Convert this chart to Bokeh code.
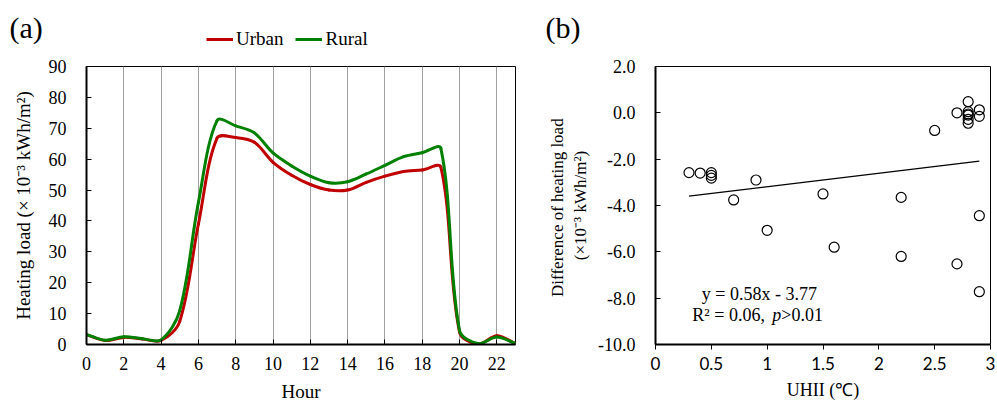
import numpy as np
from bokeh.plotting import figure
from bokeh.layouts import row, column
from bokeh.models import (Range1d, FixedTicker, Label, Legend, LegendItem,
                          NumeralTickFormatter)
from bokeh.embed import file_html
from bokeh.resources import INLINE

# ---------------- data: panel (a) ----------------
hours = list(range(24))
urban = [3.2, 1.3, 2.3, 1.8, 1.3, 7.5, 39.0, 66.8, 67.0, 65.5, 59.0, 54.8,
         51.8, 50.0, 50.0, 52.5, 54.5, 56.0, 56.5, 57.4, 4.0, 0.1, 2.8, 0.3]
rural = [3.3, 1.4, 2.5, 1.9, 1.5, 11.0, 46.0, 72.5, 70.8, 68.5, 62.0, 57.8,
         54.5, 52.4, 52.7, 55.2, 58.0, 60.8, 62.1, 63.5, 4.5, 0.3, 2.4, 0.3]
hour_ticks = list(range(0, 23, 2))
load_ticks = list(range(0, 91, 10))

# ---------------- data: panel (b) ----------------
uhii = [0.3, 0.4, 0.5, 0.5, 0.5, 0.7, 0.9, 1.0, 1.5, 1.6, 2.2, 2.2, 2.5,
        2.7, 2.7, 2.8, 2.8, 2.8, 2.8, 2.8, 2.8, 2.9, 2.9, 2.9, 2.9]
diff = [-2.58, -2.6, -2.58, -2.7, -2.82, -3.76, -2.9, -5.07, -3.5, -5.8,
        -3.65, -6.2, -0.76, 0.0, -6.52, 0.48, 0.05, -0.05, -0.1, -0.28,
        -0.45, 0.13, -0.15, -4.44, -7.72]
fit_slope = 0.58
fit_intercept = -3.77
fit_r2 = 0.06
uhii_ticks = [0, 0.5, 1, 1.5, 2, 2.5, 3]
diff_ticks = [-10, -8, -6, -4, -2, 0, 2]

SERIF = "Liberation Serif"
RED = "#C00000"
GREEN = "#008000"


def smooth_segments(xs, ys, sx, sy, t=1.0 / 3.0):
    """Bezier control points (in data space) for a smoothed line through the points."""
    X = np.asarray(xs, float)
    Y = np.asarray(ys, float)
    n = len(X)
    before, after = [], []
    for i in range(n):
        ip, inx = max(i - 1, 0), min(i + 1, n - 1)
        d01 = np.hypot((X[i] - X[ip]) * sx, (Y[i] - Y[ip]) * sy)
        d12 = np.hypot((X[inx] - X[i]) * sx, (Y[inx] - Y[i]) * sy)
        tot = d01 + d12
        fa = t * d01 / tot if tot > 0 else 0.0
        fb = t * d12 / tot if tot > 0 else 0.0
        dx, dy = X[inx] - X[ip], Y[inx] - Y[ip]
        before.append((X[i] - fa * dx, Y[i] - fa * dy))
        after.append((X[i] + fb * dx, Y[i] + fb * dy))
    return dict(
        x0=X[:-1], y0=Y[:-1], x1=X[1:], y1=Y[1:],
        cx0=[a[0] for a in after[:-1]], cy0=[a[1] for a in after[:-1]],
        cx1=[b[0] for b in before[1:]], cy1=[b[1] for b in before[1:]],
    )


TOTAL_W, TOTAL_H = 997, 404
HEAD_H = 52

# ---------------- header strip: panel letters and legend ----------------
head = figure(width=TOTAL_W, height=HEAD_H, output_backend="svg",
              toolbar_location=None, x_range=Range1d(0, TOTAL_W),
              y_range=Range1d(0, HEAD_H), min_border=0,
              x_axis_location=None, y_axis_location=None)
head.outline_line_color = None
head.xgrid.grid_line_color = None
head.ygrid.grid_line_color = None
lg_u = head.line(hours, urban, line_color=RED, line_width=3, visible=False)
lg_r = head.line(hours, rural, line_color=GREEN, line_width=3, visible=False)
legend = Legend(items=[LegendItem(label="Urban", renderers=[lg_u]),
                       LegendItem(label="Rural", renderers=[lg_r])],
                location=(206, 2), orientation="horizontal",
                glyph_width=27, glyph_height=20, label_standoff=3, spacing=12,
                padding=0, margin=0, border_line_color=None,
                background_fill_alpha=0, click_policy="none",
                label_text_font=SERIF, label_text_font_size="19px",
                label_text_color="black")
head.add_layout(legend)
head.add_layout(Label(x=9, y=HEAD_H - 27, text="(a)", text_font=SERIF,
                      text_font_size="30px", text_baseline="middle",
                      text_color="black"))
head.add_layout(Label(x=545, y=HEAD_H - 27, text="(b)", text_font=SERIF,
                      text_font_size="30px", text_baseline="middle",
                      text_color="black"))

# ---------------- panel (a) ----------------
W1, H1 = 530, TOTAL_H - HEAD_H
BL1, BR1, BT1, BB1 = 86, 15, 66 - HEAD_H, 59
pa = figure(width=W1, height=H1, output_backend="svg", toolbar_location=None,
            x_range=Range1d(0, 23), y_range=Range1d(0, 90),
            min_border_left=BL1, min_border_right=BR1,
            min_border_top=BT1, min_border_bottom=BB1)
fw = W1 - BL1 - BR1
fh = H1 - BT1 - BB1
sx = fw / 23.0
sy = fh / 90.0

seg_u = smooth_segments(hours, urban, sx, sy)
seg_r = smooth_segments(hours, rural, sx, sy)
pa.bezier(line_color=RED, line_width=3, line_cap="round", **seg_u)
pa.bezier(line_color=GREEN, line_width=3, line_cap="round", **seg_r)

pa.xaxis.ticker = FixedTicker(ticks=hour_ticks)
pa.yaxis.ticker = FixedTicker(ticks=load_ticks)
pa.xgrid.ticker = FixedTicker(ticks=hour_ticks)
pa.xgrid.grid_line_color = "#a0a0a0"
pa.xgrid.grid_line_width = 1
pa.ygrid.grid_line_color = None
pa.outline_line_color = "black"
pa.outline_line_width = 1

for ax in (pa.xaxis[0], pa.yaxis[0]):
    ax.axis_line_color = "black"
    ax.axis_line_width = 2
    ax.major_tick_line_color = "black"
    ax.major_tick_line_width = 1
    ax.major_tick_in = 5
    ax.major_tick_out = 0
    ax.minor_tick_line_color = None
    ax.major_label_text_font = SERIF
    ax.major_label_text_font_size = "18px"
    ax.major_label_text_color = "black"
    ax.axis_label_text_font = SERIF
    ax.axis_label_text_font_size = "19px"
    ax.axis_label_text_font_style = "normal"
    ax.axis_label_text_color = "black"

pa.xaxis.axis_label = "Hour"
pa.xaxis.major_label_standoff = 12
pa.xaxis.axis_label_standoff = 8
pa.yaxis.axis_label = "Heating load (× 10⁻³ kWh/m²)"
pa.yaxis.major_label_standoff = 20
pa.yaxis.axis_label_standoff = 12

# ---------------- panel (b) ----------------
W2, H2 = TOTAL_W - W1, TOTAL_H - HEAD_H
pb = figure(width=W2, height=H2, output_backend="svg", toolbar_location=None,
            x_range=Range1d(0, 3), y_range=Range1d(-10, 2),
            min_border_left=125, min_border_right=7,
            min_border_top=63 - HEAD_H, min_border_bottom=58)

xl = np.array([min(uhii), max(uhii)])
pb.line(xl, fit_slope * xl + fit_intercept, line_color="black", line_width=1.3)
pb.scatter(uhii, diff, marker="circle", size=10, fill_color=None,
           line_color="black", line_width=1.2)

pb.xaxis.ticker = FixedTicker(ticks=uhii_ticks)
pb.yaxis.ticker = FixedTicker(ticks=diff_ticks)
pb.xaxis.major_label_overrides = {v: ("%g" % v) for v in uhii_ticks}
pb.yaxis.formatter = NumeralTickFormatter(format="0.0")
pb.xgrid.grid_line_color = None
pb.ygrid.grid_line_color = None
pb.outline_line_color = "black"
pb.outline_line_width = 1

for ax in (pb.xaxis[0], pb.yaxis[0]):
    ax.axis_line_color = "black"
    ax.axis_line_width = 2
    ax.major_tick_line_color = "black"
    ax.major_tick_line_width = 1
    ax.minor_tick_line_color = None
    ax.major_label_text_color = "black"
    ax.axis_label_text_font = SERIF
    ax.axis_label_text_font_size = "18px"
    ax.axis_label_text_font_style = "normal"
    ax.axis_label_text_color = "black"

pb.yaxis.major_tick_in = 5
pb.yaxis.major_tick_out = 0
pb.yaxis.major_label_text_font = SERIF
pb.yaxis.major_label_text_font_size = "18px"
pb.yaxis.major_label_standoff = 20
pb.yaxis.axis_label = "Difference of  heating load\n(×10⁻³ kWh/m²)"
pb.yaxis.axis_label_standoff = 5
pb.yaxis.axis_label_text_font_size = "17px"

pb.xaxis.major_tick_in = 0
pb.xaxis.major_tick_out = 5
pb.xaxis.major_label_text_font = "Lato"
pb.xaxis.major_label_text_font_size = "17px"
pb.xaxis.major_label_standoff = 7
pb.xaxis.axis_label = "UHII (℃)"
pb.xaxis.axis_label_standoff = 7

eq = "y = %.2fx - %.2f" % (fit_slope, abs(fit_intercept))
pb.add_layout(Label(x=0.93, y=-7.82, text=eq, text_align="center",
                    text_baseline="middle", text_font=SERIF,
                    text_font_size="18px", text_color="black"))
r2_txt = "R² = %.2f," % fit_r2
pb.add_layout(Label(x=0.33, y=-8.72, text=r2_txt, text_align="left",
                    text_baseline="middle", text_font=SERIF,
                    text_font_size="18px", text_color="black"))
pb.add_layout(Label(x=0.33, y=-8.72, x_offset=80, text="p", text_align="left",
                    text_baseline="middle", text_font=SERIF,
                    text_font_style="italic",
                    text_font_size="18px", text_color="black"))
pb.add_layout(Label(x=0.33, y=-8.72, x_offset=89, text=">0.01", text_align="left",
                    text_baseline="middle", text_font=SERIF,
                    text_font_size="18px", text_color="black"))

layout = column(head, row(pa, pb))
open("out.html", "w").write(file_html(layout, INLINE))
